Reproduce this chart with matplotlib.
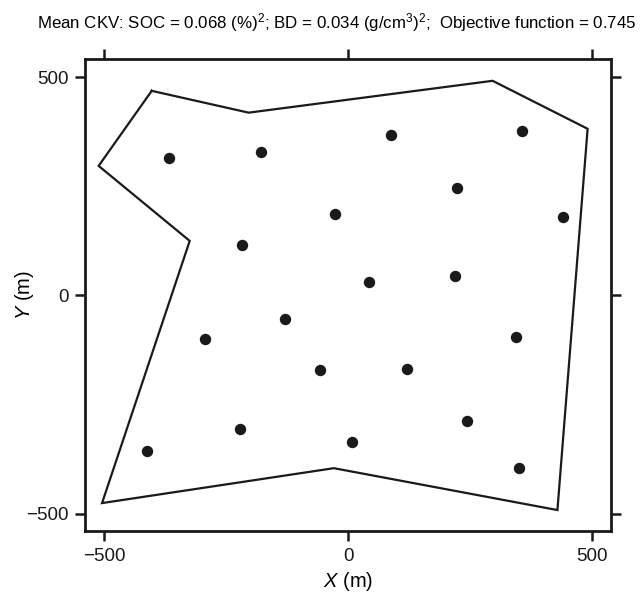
import numpy as np
import matplotlib
matplotlib.use('Agg')
import matplotlib.pyplot as plt

plt.rcParams['font.family'] = ['Liberation Sans', 'DejaVu Sans']
plt.rcParams['mathtext.fontset'] = 'custom'
plt.rcParams['mathtext.rm'] = 'Liberation Sans'
plt.rcParams['mathtext.it'] = 'Liberation Sans:italic'

# field boundary (m)
boundary_x = [-403, -204, 297, 492, 430, -29, -505, -325, -512]
boundary_y = [469, 419, 492, 382, -492, -396, -476, 125, 297]

# sampling locations (m)
pts_x = [-368, -179, 89, 358, 223, -26, 442, -217, 44, 220,
         -129, -293, 344, -57, 122, -221, 245, -413, 9, 352]
pts_y = [315, 329, 368, 378, 247, 187, 179, 116, 30, 45,
         -55, -101, -95, -171, -168, -306, -287, -357, -336, -395]

ticks = [-500, 0, 500]
title = ('Mean CKV: SOC = 0.068 (%)$^2$; BD = 0.034 (g/cm$^3$)$^2$;  '
         'Objective function = 0.745')

fig = plt.figure(figsize=(6.4, 5.93), dpi=100)
ax = fig.add_axes([85/640, 1-531/593, 526/640, 472/593])

bx = boundary_x + boundary_x[:1]
by = boundary_y + boundary_y[:1]
ax.plot(bx, by, color='#1a1a1a', lw=1.6, solid_joinstyle='miter')
ax.plot(pts_x, pts_y, 'o', color='#1a1a1a', ms=8.2, mec='none')

ax.set_xlim(-540, 540)
ax.set_ylim(-540, 542)
ax.set_xticks(ticks)
ax.set_yticks(ticks)
ax.tick_params(direction='out', length=7, width=1.8, labelsize=13.5,
               top=True, right=True, pad=5, colors='#1a1a1a')
for s in ax.spines.values():
    s.set_linewidth(2)
    s.set_color('#1a1a1a')

ax.set_xlabel('$\\it{X}$ (m)', fontsize=14.5)
ax.set_ylabel('$\\it{Y}$ (m)', fontsize=14.5)
ax.xaxis.set_label_coords(0.5, -0.082)
ax.yaxis.set_label_coords(-0.093, 0.5)
fig.text(337/640, 1-23/593, title, ha='center', va='center', fontsize=12.2)

fig.savefig('out.png', dpi=100)
